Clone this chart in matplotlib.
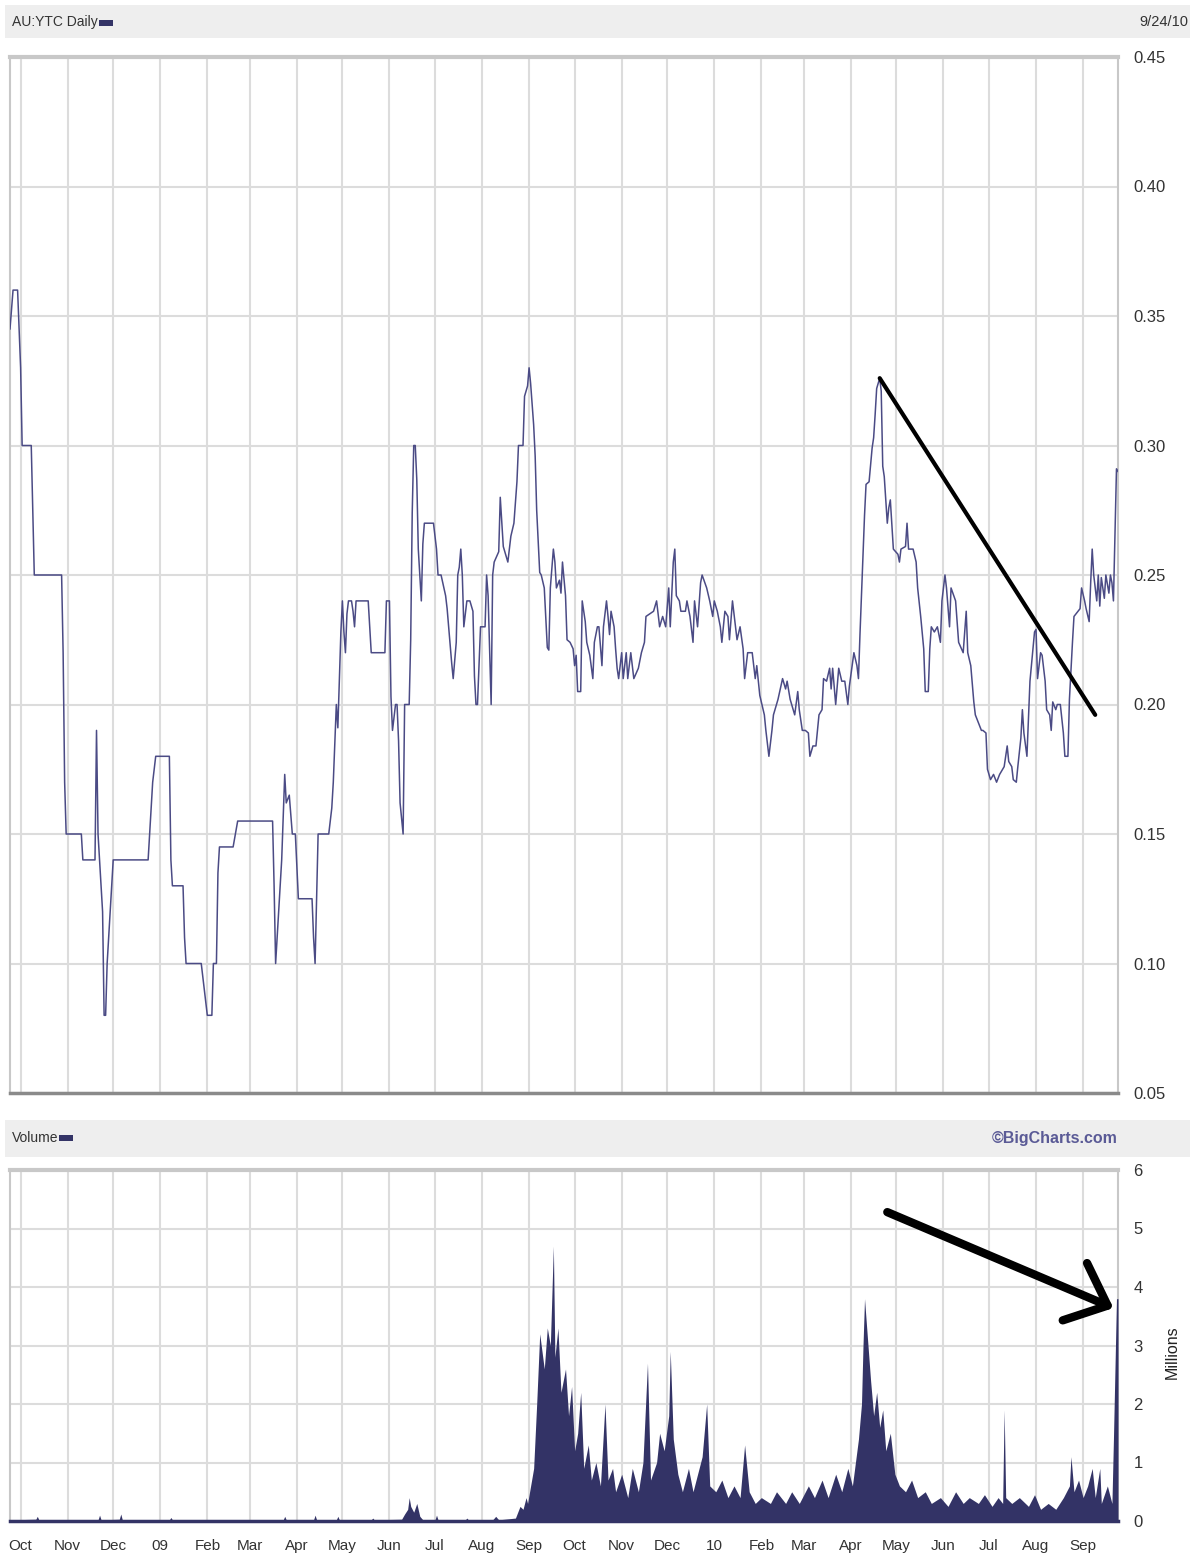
import matplotlib
matplotlib.use('Agg')
import matplotlib.pyplot as plt
import matplotlib.dates as mdates
from matplotlib.patches import Rectangle
import pandas as pd

plt.rcParams['font.family'] = ['Liberation Sans', 'DejaVu Sans']

START = pd.Timestamp('2008-09-24')
END = pd.Timestamp('2010-09-24')

# daily close, days counted from START
price_days = [
    0, 2, 5, 7, 8, 14, 16, 34, 35, 36, 37, 47, 48, 56, 57, 58, 59, 61, 62, 63,
    64, 66, 68, 91, 92, 94, 96, 105, 106, 107, 114, 115, 116, 126, 128, 130, 133, 134, 136, 137,
    138, 147, 150, 173, 174, 175, 177, 179, 181, 182, 184, 186, 188, 190, 199, 200, 201, 203, 210, 212,
    213, 215, 216, 217, 218, 219, 220, 221, 222, 223, 225, 226, 227, 228, 236, 238, 247, 248, 250, 251,
    252, 254, 255, 256, 257, 259, 260, 263, 264, 265, 266, 267, 268, 269, 270, 271, 272, 273, 279, 281,
    282, 284, 287, 288, 290, 291, 292, 294, 295, 296, 297, 298, 299, 301, 303, 305, 306, 307, 308, 310,
    313, 314, 315, 317, 318, 319, 322, 323, 325, 326, 328, 330, 332, 334, 335, 338, 339, 341, 342, 343,
    345, 346, 347, 349, 350, 352, 354, 355, 356, 358, 359, 360, 362, 363, 364, 366, 367, 369, 371, 372,
    373, 374, 376, 377, 379, 380, 382, 384, 385, 387, 388, 390, 391, 393, 394, 395, 396, 398, 399, 400,
    401, 403, 404, 406, 407, 409, 411, 414, 416, 418, 419, 424, 426, 428, 430, 432, 434, 435, 437, 438,
    439, 441, 442, 445, 446, 448, 450, 451, 453, 455, 456, 459, 461, 463, 464, 466, 468, 469, 471, 473,
    474, 476, 478, 479, 481, 483, 484, 486, 489, 491, 492, 494, 495, 497, 498, 500, 502, 503, 506, 509,
    511, 512, 514, 516, 517, 519, 520, 522, 524, 526, 527, 529, 531, 533, 535, 536, 538, 540, 541, 542,
    544, 546, 548, 550, 552, 553, 556, 558, 559, 560, 561, 562, 563, 564, 566, 568, 569, 570, 571, 573,
    574, 575, 576, 578, 579, 580, 582, 585, 586, 587, 590, 591, 592, 595, 597, 598, 600, 602, 603, 605,
    606, 607, 609, 611, 613, 614, 616, 617, 619, 620, 623, 625, 628, 630, 631, 633, 635, 636, 640, 641,
    643, 644, 646, 648, 650, 652, 655, 657, 658, 660, 661, 663, 664, 666, 667, 668, 670, 671, 672, 674,
    675, 676, 677, 679, 680, 682, 683, 685, 686, 687, 689, 690, 692, 694, 695, 697, 698, 700, 701, 705,
    706, 708, 709, 711, 712, 713, 714, 716, 717, 718, 719, 721, 722, 724, 725, 726, 727, 728, 729, 730,
]
price_values = [
    0.345, 0.36, 0.36, 0.33, 0.30, 0.30, 0.25, 0.25, 0.22, 0.17, 0.15, 0.15, 0.14, 0.14, 0.19, 0.15, 0.14, 0.12, 0.08, 0.08,
    0.10, 0.12, 0.14, 0.14, 0.15, 0.17, 0.18, 0.18, 0.14, 0.13, 0.13, 0.11, 0.10, 0.10, 0.09, 0.08, 0.08, 0.10, 0.10, 0.135,
    0.145, 0.145, 0.155, 0.155, 0.13, 0.10, 0.12, 0.14, 0.173, 0.162, 0.165, 0.15, 0.15, 0.125, 0.125, 0.11, 0.10, 0.15, 0.15, 0.16,
    0.17, 0.20, 0.191, 0.21, 0.228, 0.24, 0.228, 0.22, 0.235, 0.24, 0.24, 0.236, 0.23, 0.24, 0.24, 0.22, 0.22, 0.24, 0.24, 0.203,
    0.19, 0.20, 0.20, 0.186, 0.162, 0.15, 0.20, 0.20, 0.225, 0.274, 0.30, 0.30, 0.287, 0.26, 0.25, 0.24, 0.262, 0.27, 0.27, 0.26,
    0.25, 0.25, 0.242, 0.237, 0.223, 0.216, 0.21, 0.224, 0.25, 0.253, 0.26, 0.25, 0.23, 0.24, 0.24, 0.236, 0.211, 0.20, 0.20, 0.23,
    0.23, 0.25, 0.242, 0.20, 0.25, 0.255, 0.259, 0.28, 0.261, 0.259, 0.255, 0.265, 0.27, 0.286, 0.30, 0.30, 0.319, 0.323, 0.33, 0.324,
    0.308, 0.296, 0.275, 0.251, 0.25, 0.245, 0.222, 0.221, 0.245, 0.26, 0.255, 0.245, 0.248, 0.243, 0.255, 0.242, 0.225, 0.224, 0.2215, 0.215,
    0.219, 0.205, 0.205, 0.24, 0.232, 0.224, 0.219, 0.21, 0.224, 0.23, 0.23, 0.215, 0.23, 0.24, 0.234, 0.227, 0.236, 0.23, 0.2215, 0.214,
    0.21, 0.22, 0.21, 0.22, 0.21, 0.22, 0.21, 0.214, 0.22, 0.224, 0.234, 0.236, 0.24, 0.23, 0.234, 0.23, 0.245, 0.23, 0.255, 0.26,
    0.242, 0.24, 0.236, 0.236, 0.24, 0.234, 0.224, 0.24, 0.23, 0.247, 0.25, 0.245, 0.24, 0.234, 0.24, 0.236, 0.23, 0.224, 0.236, 0.234,
    0.225, 0.24, 0.23, 0.225, 0.23, 0.2215, 0.21, 0.22, 0.22, 0.21, 0.215, 0.2035, 0.201, 0.196, 0.19, 0.18, 0.19, 0.196, 0.202, 0.21,
    0.206, 0.209, 0.202, 0.198, 0.196, 0.205, 0.198, 0.19, 0.19, 0.189, 0.18, 0.184, 0.184, 0.196, 0.198, 0.21, 0.209, 0.214, 0.206, 0.214,
    0.20, 0.214, 0.209, 0.209, 0.20, 0.207, 0.22, 0.215, 0.21, 0.227, 0.242, 0.256, 0.273, 0.285, 0.286, 0.299, 0.303, 0.312, 0.322, 0.326,
    0.321, 0.292, 0.288, 0.27, 0.276, 0.279, 0.26, 0.258, 0.255, 0.26, 0.261, 0.27, 0.26, 0.26, 0.255, 0.245, 0.234, 0.2215, 0.205, 0.205,
    0.2215, 0.23, 0.228, 0.23, 0.224, 0.24, 0.25, 0.245, 0.23, 0.245, 0.24, 0.224, 0.22, 0.236, 0.22, 0.215, 0.201, 0.196, 0.19, 0.19,
    0.189, 0.175, 0.171, 0.173, 0.17, 0.173, 0.176, 0.184, 0.178, 0.176, 0.171, 0.17, 0.176, 0.187, 0.198, 0.189, 0.18, 0.194, 0.209, 0.2215,
    0.228, 0.229, 0.21, 0.22, 0.219, 0.209, 0.198, 0.196, 0.19, 0.201, 0.198, 0.20, 0.20, 0.189, 0.18, 0.18, 0.202, 0.224, 0.234, 0.237,
    0.245, 0.24, 0.237, 0.232, 0.247, 0.26, 0.25, 0.24, 0.25, 0.238, 0.249, 0.241, 0.25, 0.243, 0.25, 0.247, 0.24, 0.265, 0.291, 0.29,
]

# volume in millions
volume_days = [
    0, 17, 18, 19, 58, 59, 60, 72, 73, 74, 105, 106, 107, 180, 181, 182, 200, 201, 202, 215,
    216, 217, 238, 239, 240, 258, 260, 262, 263, 264, 266, 268, 270, 272, 280, 281, 282, 300, 301, 302,
    318, 320, 322, 333, 336, 338, 340, 341, 343, 345, 347, 349, 352, 354, 356, 358, 359, 361, 363, 366,
    368, 370, 372, 374, 376, 378, 381, 383, 386, 389, 392, 394, 397, 399, 403, 407, 410, 414, 417, 420,
    422, 426, 428, 431, 434, 435, 437, 440, 443, 447, 450, 453, 456, 459, 461, 465, 469, 473, 477, 481,
    484, 487, 491, 495, 501, 505, 511, 515, 520, 526, 530, 535, 539, 544, 548, 552, 555, 559, 561, 562,
    563, 565, 567, 569, 571, 573, 575, 577, 580, 583, 586, 590, 594, 598, 603, 607, 613, 618, 623, 628,
    632, 638, 642, 647, 651, 654, 655, 656, 660, 665, 671, 675, 679, 684, 689, 694, 698, 699, 701, 704,
    707, 710, 713, 715, 718, 719, 723, 726, 727, 728, 729, 730,
]
volume_values = [
    0.02, 0.03, 0.08, 0.02, 0.02, 0.1, 0.02, 0.03, 0.12, 0.02, 0.02, 0.06, 0.02, 0.02, 0.08, 0.02, 0.02, 0.1, 0.02, 0.02,
    0.08, 0.02, 0.02, 0.05, 0.02, 0.03, 0.12, 0.2, 0.4, 0.25, 0.15, 0.3, 0.08, 0.02, 0.02, 0.1, 0.02, 0.02, 0.05, 0.02,
    0.02, 0.08, 0.02, 0.05, 0.25, 0.2, 0.4, 0.3, 0.6, 0.9, 2.0, 3.2, 2.6, 3.3, 3.0, 4.7, 2.8, 3.3, 2.2, 2.6,
    1.8, 2.3, 1.2, 1.5, 2.2, 0.9, 1.3, 0.7, 1.0, 0.6, 2.0, 0.7, 0.9, 0.5, 0.8, 0.4, 0.9, 0.5, 1.0, 2.7,
    0.7, 1.0, 1.5, 1.2, 1.8, 2.9, 1.4, 0.8, 0.5, 0.9, 0.5, 0.8, 1.1, 2.0, 0.6, 0.5, 0.7, 0.4, 0.6, 0.4,
    1.3, 0.5, 0.3, 0.4, 0.3, 0.5, 0.3, 0.5, 0.3, 0.6, 0.4, 0.7, 0.4, 0.8, 0.5, 0.9, 0.6, 1.4, 2.0, 3.0,
    3.8, 3.1, 2.4, 1.8, 2.2, 1.6, 1.9, 1.2, 1.5, 0.8, 0.6, 0.5, 0.7, 0.4, 0.5, 0.3, 0.4, 0.25, 0.5, 0.3,
    0.4, 0.3, 0.45, 0.25, 0.4, 0.3, 1.9, 0.4, 0.3, 0.4, 0.25, 0.45, 0.2, 0.3, 0.2, 0.4, 0.6, 1.1, 0.5, 0.7,
    0.4, 0.6, 0.9, 0.4, 0.9, 0.3, 0.6, 0.3, 1.4, 2.6, 3.8, 3.8,
]

# hand-drawn markup on the chart
trend_days = [573, 715]
trend_values = [0.326, 0.196]
arrow_start = (578, 5.28)
arrow_end = (727, 3.64)

price_dates = START + pd.to_timedelta(price_days, unit='D')
volume_dates = START + pd.to_timedelta(volume_days, unit='D')
trend_dates = START + pd.to_timedelta(trend_days, unit='D')

W, H = 1197, 1557
fig = plt.figure(figsize=(W / 100, H / 100), dpi=100)
fig.patch.set_facecolor('white')


def fx(px):
    return px / W


def fy(py):
    return 1 - py / H


BAND = '#eeeeee'
GRID = '#dcdcdc'
LINE = '#4b4b85'
FILL = '#333366'
TXT = '#333333'

# header bands and legend dashes
fig.patches.append(Rectangle((fx(5), fy(38)), fx(1185), (38 - 5) / H, transform=fig.transFigure,
                             facecolor=BAND, edgecolor='none', zorder=0))
fig.patches.append(Rectangle((fx(5), fy(1157)), fx(1185), (1157 - 1120) / H, transform=fig.transFigure,
                             facecolor=BAND, edgecolor='none', zorder=0))
fig.patches.append(Rectangle((fx(99), fy(26)), fx(14), 6 / H, transform=fig.transFigure,
                             facecolor=FILL, edgecolor='none'))
fig.patches.append(Rectangle((fx(59), fy(1141)), fx(14), 6 / H, transform=fig.transFigure,
                             facecolor=FILL, edgecolor='none'))

fig.text(fx(12), fy(22), 'AU:YTC Daily', fontsize=10, color=TXT, va='center', ha='left')
fig.text(fx(1188), fy(22), '9/24/10', fontsize=10.5, color=TXT, va='center', ha='right')
fig.text(fx(12), fy(1138), 'Volume', fontsize=10, color=TXT, va='center', ha='left')
fig.text(fx(1118), fy(1138), '\u00a9BigCharts.com', fontsize=11.5, color='#5a5a96', va='center',
         ha='right', fontweight='bold')
fig.text(fx(1172), fy(1352), 'Millions', fontsize=11.5, color='#222222', va='center', ha='center',
         rotation=90)

ax1 = fig.add_axes([fx(10), fy(1093), fx(1108), (1093 - 57) / H])
ax2 = fig.add_axes([fx(10), fy(1521), fx(1108), (1521 - 1170) / H])

for ax in (ax1, ax2):
    ax.set_xlim(START, END)
    ax.xaxis.set_major_locator(mdates.MonthLocator())
    ax.grid(True, color=GRID, linewidth=1.5)
    ax.set_axisbelow(True)
    ax.yaxis.tick_right()
    ax.tick_params(length=0, labelsize=12, colors=TXT, pad=11)
    for s in ('left', 'right', 'top'):
        ax.spines[s].set_color('#c8c8c8')
        ax.spines[s].set_linewidth(1.5)
    ax.spines['top'].set_linewidth(3)
    ax.spines['bottom'].set_color('#8a8a8a')
    ax.spines['bottom'].set_linewidth(2.5)

# price panel
ax1.plot(price_dates, price_values, color=LINE, linewidth=1.1, zorder=3)
ax1.plot(trend_dates, trend_values, color='black', linewidth=3, solid_capstyle='round', zorder=4)
ax1.set_ylim(0.05, 0.45)
ax1.set_yticks([0.05, 0.10, 0.15, 0.20, 0.25, 0.30, 0.35, 0.40, 0.45])
ax1.set_yticklabels([f'{v:.2f}' for v in ax1.get_yticks()])
ax1.tick_params(axis='x', labelbottom=False)

# volume panel
ax2.fill_between(volume_dates, 0, volume_values, color=FILL, linewidth=0, zorder=3)
ax2.set_ylim(0, 6)
ax2.set_yticks(range(7))
ax2.spines['bottom'].set_color(FILL)


def month_label(x, pos):
    d = mdates.num2date(x)
    return d.strftime('%y') if d.month == 1 else d.strftime('%b')


ax2.xaxis.set_major_formatter(plt.FuncFormatter(month_label))
ax2.tick_params(axis='x', pad=13, labelsize=11)

a0 = START + pd.Timedelta(days=arrow_start[0])
a1 = START + pd.Timedelta(days=arrow_end[0])
ax2.annotate('', xy=(mdates.date2num(a1), arrow_end[1]), xytext=(mdates.date2num(a0), arrow_start[1]),
             arrowprops=dict(arrowstyle='->,head_length=1.6,head_width=1.4', color='black', lw=6,
                             mutation_scale=16, shrinkA=0, shrinkB=0), zorder=5)

fig.savefig('out.png', dpi=100)
